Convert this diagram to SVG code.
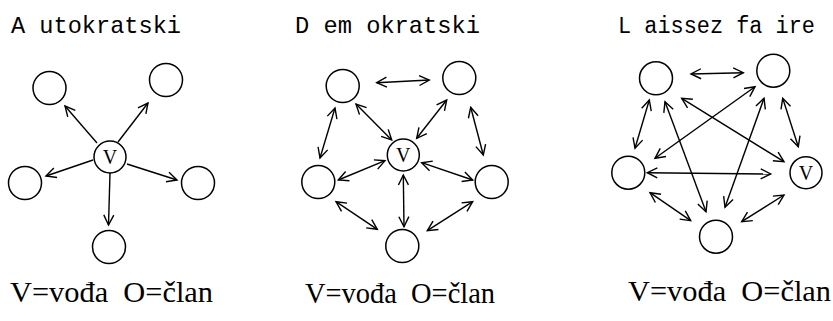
<svg xmlns="http://www.w3.org/2000/svg" width="833" height="321" viewBox="0 0 833 321">
<defs>
<style>
.bg{fill:#fff}
.n{fill:#fff;stroke:#000;stroke-width:1.5}
.c line{stroke:#000;stroke-width:1.4;fill:none}
.t{font-family:"Liberation Mono","DejaVu Sans Mono",monospace;font-size:24px;fill:#000}
.lg{font-family:"Liberation Serif","DejaVu Serif",serif;font-size:30px;fill:#000;white-space:pre}
.v{font-family:"Liberation Serif","DejaVu Serif",serif;font-size:20px;fill:#000;text-anchor:middle}
.a1 line{marker-end:url(#ah)}
.a2 line{marker-start:url(#ah);marker-end:url(#ah)}
</style>
<marker id="ah" viewBox="-12 -7 14 14" refX="0" refY="0" markerWidth="14" markerHeight="14" markerUnits="userSpaceOnUse" orient="auto-start-reverse">
<path d="M-10,-5 L0,0 L-10,5" fill="none" stroke="#000" stroke-width="1.4"/>
</marker>
</defs>
<rect class="bg" x="0" y="0" width="833" height="321"/>

<!-- Panel 1: Autokratski -->
<text id="title1" class="t" x="11" y="33" textLength="170" lengthAdjust="spacingAndGlyphs">A utokratski</text>
<g id="connectors1" class="c a1">
<line x1="97" y1="143" x2="65" y2="106"/>
<line x1="118" y1="142" x2="148" y2="103"/>
<line x1="93" y1="160" x2="46" y2="176"/>
<line x1="127" y1="164" x2="177" y2="180"/>
<line x1="110" y1="173" x2="108.5" y2="225"/>
</g>
<g id="p1-v"><circle class="n" cx="110" cy="157" r="16"/><text class="v" x="110" y="164">V</text></g>
<g id="p1-tl"><circle class="n" cx="49.5" cy="88" r="16.5"/></g>
<g id="p1-tr"><circle class="n" cx="166" cy="80" r="16.5"/></g>
<g id="p1-l"><circle class="n" cx="25" cy="183" r="16.5"/></g>
<g id="p1-r"><circle class="n" cx="198" cy="183" r="16.5"/></g>
<g id="p1-b"><circle class="n" cx="109" cy="247" r="16.5"/></g>
<text id="legend1" class="lg" x="10" y="302" textLength="203" lengthAdjust="spacingAndGlyphs">V=vođa  O=član</text>

<!-- Panel 2: Demokratski -->
<text id="title2" class="t" x="295" y="33" textLength="185" lengthAdjust="spacingAndGlyphs">D em okratski</text>
<g id="connectors2" class="c a2">
<line x1="376.7" y1="82.7" x2="429.3" y2="80"/>
<line x1="335" y1="108" x2="320" y2="158"/>
<line x1="356" y1="104" x2="391.7" y2="140"/>
<line x1="446.7" y1="100" x2="416.7" y2="138.3"/>
<line x1="470.7" y1="107.3" x2="483.3" y2="155"/>
<line x1="385" y1="160.7" x2="338.3" y2="180"/>
<line x1="421.7" y1="162.7" x2="472.7" y2="180"/>
<line x1="403.3" y1="175" x2="404" y2="226.7"/>
<line x1="336" y1="201.7" x2="377.3" y2="229.3"/>
<line x1="472.7" y1="201.7" x2="427.3" y2="230.7"/>
</g>
<g id="p2-v"><circle class="n" cx="403.3" cy="155" r="16"/><text class="v" x="403.3" y="162">V</text></g>
<g id="p2-tl"><circle class="n" cx="342.7" cy="86" r="16.5"/></g>
<g id="p2-tr"><circle class="n" cx="459.3" cy="78" r="16.5"/></g>
<g id="p2-l"><circle class="n" cx="318.3" cy="182" r="16.5"/></g>
<g id="p2-r"><circle class="n" cx="491.7" cy="182" r="16.5"/></g>
<g id="p2-b"><circle class="n" cx="402.3" cy="246" r="16.5"/></g>
<text id="legend2" class="lg" x="305" y="303" textLength="190" lengthAdjust="spacingAndGlyphs">V=vođa  O=član</text>

<!-- Panel 3: Laissez faire -->
<text id="title3" class="t" x="618" y="33" style="font-size:23px" textLength="197" lengthAdjust="spacingAndGlyphs">L aissez fa ire</text>
<g id="connectors3" class="c a2">
<line x1="691" y1="74" x2="743.3" y2="72.7"/>
<line x1="649.3" y1="100" x2="635" y2="148.3"/>
<line x1="782.7" y1="98.3" x2="798.3" y2="146.7"/>
<line x1="647.3" y1="172.7" x2="770.7" y2="174"/>
<line x1="650" y1="192.7" x2="690.7" y2="220.7"/>
<line x1="784" y1="195" x2="741.7" y2="221.7"/>
<line x1="681.7" y1="98.3" x2="784" y2="161.7"/>
<line x1="665" y1="101.7" x2="706" y2="211.7"/>
<line x1="755" y1="86.7" x2="655" y2="158.3"/>
<line x1="764" y1="98.3" x2="725" y2="207.3"/>
</g>
<g id="p3-tl"><circle class="n" cx="656" cy="78.3" r="16.5"/></g>
<g id="p3-tr"><circle class="n" cx="773.3" cy="70.7" r="16.5"/></g>
<g id="p3-l"><circle class="n" cx="628.3" cy="172.7" r="16.5"/></g>
<g id="p3-v"><circle class="n" cx="806" cy="172.7" r="16"/><text class="v" x="806" y="179.7">V</text></g>
<g id="p3-b"><circle class="n" cx="716" cy="236.7" r="16.5"/></g>
<text id="legend3" class="lg" x="628" y="301" textLength="203" lengthAdjust="spacingAndGlyphs">V=vođa  O=član</text>
</svg>
